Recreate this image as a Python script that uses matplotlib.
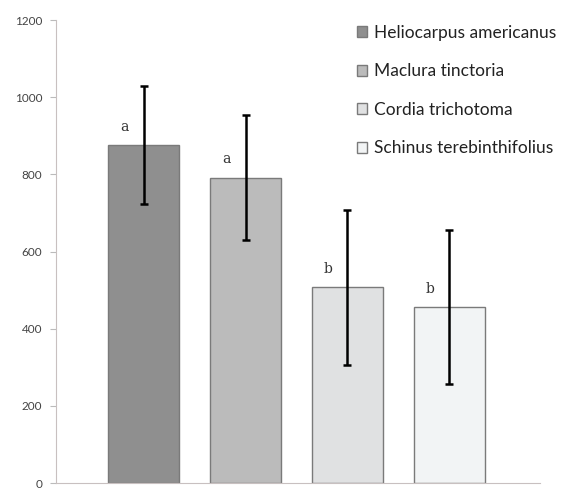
import matplotlib.pyplot as plt
from matplotlib.patches import Patch

species = ["Heliocarpus americanus", "Maclura tinctoria",
           "Cordia trichotoma", "Schinus terebinthifolius"]
means = [876, 792, 508, 456]
errors = [152, 162, 201, 200]
letters = ["a", "a", "b", "b"]
colors = ["#8f8f8f", "#bbbbbb", "#e0e1e2", "#f2f4f5"]

plt.rcParams["font.family"] = ["Lato", "DejaVu Sans"]

fig = plt.figure(figsize=(5.66, 4.9), dpi=100)
ax = fig.add_axes([0.099, 0.014, 0.855, 0.945])

x = list(range(len(species)))
ax.bar(x, means, width=0.7, color=colors, edgecolor="#7a7a7a", linewidth=1.0)
ax.errorbar(x, means, yerr=errors, fmt="none", ecolor="black",
            elinewidth=1.8, capsize=3, capthick=1.8)

for xi, m, lab in zip(x, means, letters):
    ax.text(xi - 0.19, m + 30, lab, ha="center", va="bottom",
            fontsize=10, color="#333333", family="DejaVu Serif")

ax.set_xlim(-0.86, 3.89)
ax.set_ylim(0, 1200)
ax.set_yticks(range(0, 1201, 200))
ax.set_xticks([])
ax.tick_params(axis="y", length=4, color="#bbbbbb", labelsize=8.5,
               labelcolor="#444444", pad=6)
for s in ["top", "right"]:
    ax.spines[s].set_visible(False)
ax.spines["left"].set_color("#c8c0c0")
ax.spines["bottom"].set_color("#c8c0c0")

handles = [Patch(facecolor=c, edgecolor="#7a7a7a") for c in colors]
ax.legend(handles, species, loc="upper left", bbox_to_anchor=(0.622, 0.99),
          frameon=False, fontsize=12.5, labelspacing=1.3, borderpad=0,
          borderaxespad=0, handlelength=0.6, handleheight=0.6,
          handletextpad=0.35, labelcolor="#222222")

fig.savefig("out.png", dpi=100)
